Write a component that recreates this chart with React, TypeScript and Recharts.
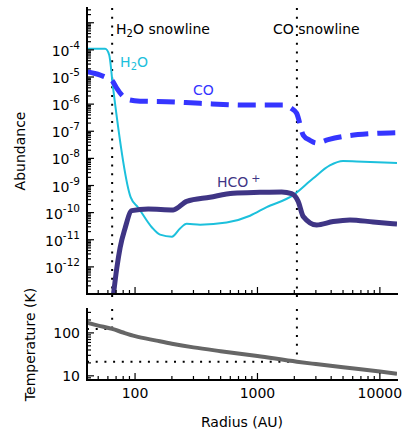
import { LineChart, Line, XAxis, YAxis, ReferenceLine, ReferenceDot } from "recharts";

// axis ranges
const R_MIN = 40.5;
const R_MAX = 13800;
const A_MIN = 1e-13;
const A_MAX = 3.5e-3;
const T_MIN = 8;
const T_MAX = 360;

// snowlines: radius (AU) and temperature (K)
const H2O_SNOW_R = 65;
const H2O_SNOW_T = 124;
const CO_SNOW_R = 2100;
const CO_SNOW_T = 21.3;

// tick values
const R_MAJOR = [100, 1000, 10000];
const R_LABELS = [100, 1000, 10000];
const A_EXP_MAJOR = [-13, -12, -11, -10, -9, -8, -7, -6, -5, -4, -3];
const A_EXP_LABELS = [-12, -11, -10, -9, -8, -7, -6, -5, -4];
const T_MAJOR = [10, 100];
const T_LABELS = [10, 100];
const MINOR_MULT = [2, 3, 4, 5, 6, 7, 8, 9];

// abundances
const H2O_R = [40.5, 57, 61.5, 66, 92, 106, 137, 160, 200, 233, 264, 340, 560, 870, 1190, 1950, 2840, 3900, 5000, 6450, 13800];
const H2O_A = [1.09e-4, 1.09e-4, 6.5e-5, 4.3e-6, 3.7e-10, 1.55e-10, 2.9e-11, 1.55e-11, 1.3e-11, 2.6e-11, 3.9e-11, 3.6e-11, 4.3e-11, 7.7e-11, 1.6e-10, 4.3e-10, 1.8e-9, 5.5e-9, 8e-9, 7.7e-9, 6.7e-9];

const CO_R = [40.5, 52, 57, 64.5, 71, 78.4, 88, 110, 181, 340, 868, 1615, 1900, 2090, 2370, 2690, 3040, 3780, 5010, 8280, 13800];
const CO_A = [1.57e-5, 1.18e-5, 1e-5, 7.7e-6, 3.8e-6, 2.1e-6, 1.47e-6, 1.29e-6, 1.23e-6, 1.07e-6, 9.2e-7, 9.2e-7, 6.9e-7, 4.6e-7, 7.1e-8, 4.6e-8, 3.7e-8, 4.9e-8, 6.4e-8, 8.1e-8, 8.9e-8];

const HCO_R = [65.5, 71, 75.5, 82.8, 94, 128, 205, 264, 409, 634, 1047, 1577, 1900, 2150, 2370, 3040, 4160, 5690, 8820, 13800];
const HCO_A = [5e-14, 9.3e-13, 5.1e-12, 2.6e-11, 1.18e-10, 1.37e-10, 1.26e-10, 2.6e-10, 3.7e-10, 5.2e-10, 5.6e-10, 5.8e-10, 5e-10, 2.6e-10, 7.1e-11, 3.5e-11, 4.7e-11, 5.4e-11, 4.5e-11, 3.8e-11];

// temperature profile
const T_R = [40.5, 50, 65, 80, 100, 150, 200, 300, 500, 1000, 2100, 3000, 5000, 10000, 13800];
const T_K = [172, 148, 124, 102, 84, 66, 56, 46, 37.5, 29, 21.3, 18.8, 15.8, 12.6, 11.2];

const C_H2O = "#1cc0dc";
const C_CO = "#3535ff";
const C_HCO = "#3f3585";
const C_T = "#666666";
const FONT = "DejaVu Sans";

const toPts = (xs: number[], ys: number[]) => xs.map((r, i) => ({ r, v: ys[i] }));
const h2o = toPts(H2O_R, H2O_A);
const co = toPts(CO_R, CO_A);
const hco = toPts(HCO_R, HCO_A);
const temp = toPts(T_R, T_K);

const withMinor = (majors: number[], lo: number, hi: number) => {
  const out: number[] = [];
  majors.forEach((m) => {
    out.push(m);
    MINOR_MULT.forEach((k) => out.push(m * k));
  });
  MINOR_MULT.forEach((k) => out.push((majors[0] / 10) * k));
  return out.filter((v) => v >= lo * 0.999 && v <= hi * 1.001).sort((a, b) => a - b);
};

const R_TICKS = withMinor(R_MAJOR, R_MIN, R_MAX);
const A_TICKS = withMinor(A_EXP_MAJOR.map((e) => Math.pow(10, e)), A_MIN, A_MAX);
const T_TICKS = withMinor(T_MAJOR, T_MIN, T_MAX);

const isMajor = (v: number) => Math.abs(Math.log10(v) - Math.round(Math.log10(v))) < 1e-6;

type Side = "left" | "right" | "top" | "bottom";

function makeTick(side: Side, label?: (v: number) => any) {
  return (p: any) => {
    const { x, y, payload } = p;
    const v = payload.value as number;
    const len = isMajor(v) ? 7 : 4;
    let x2 = x;
    let y2 = y;
    if (side === "left") x2 = x + len;
    if (side === "right") x2 = x - len;
    if (side === "top") y2 = y + len;
    if (side === "bottom") y2 = y - len;
    const lab = label && isMajor(v) ? label(v) : null;
    return (
      <g>
        <line x1={x} y1={y} x2={x2} y2={y2} stroke="#000" strokeWidth={1.2} />
        {lab}
      </g>
    );
  };
}

const abundLabel = (x: number, y: number) => (v: number) => {
  const e = Math.round(Math.log10(v));
  if (!A_EXP_LABELS.includes(e)) return null;
  return (
    <text x={x - 7} y={y + 6} textAnchor="end" fontSize={14} fontFamily={FONT} fill="#000">
      10<tspan dy={-7} fontSize={10.5}>{`-${-e}`}</tspan>
    </text>
  );
};

const leftAbundTick = (p: any) =>
  makeTick("left", abundLabel(p.x, p.y))(p);

const leftTempTick = (p: any) =>
  makeTick("left", (v: number) =>
    T_LABELS.some((t) => Math.abs(t - v) < 1e-6) ? (
      <text x={p.x - 7} y={p.y + 5} textAnchor="end" fontSize={14} fontFamily={FONT} fill="#000">
        {String(Math.round(v))}
      </text>
    ) : null
  )(p);

const bottomRTick = (p: any) =>
  makeTick("bottom", (v: number) =>
    R_LABELS.some((t) => Math.abs(t - v) < 1e-6) ? (
      <text x={p.x} y={p.y + 18} textAnchor="middle" fontSize={14} fontFamily={FONT} fill="#000">
        {String(Math.round(v))}
      </text>
    ) : null
  )(p);

const frame = { stroke: "#000", strokeWidth: 2, strokeLinecap: "square" as const };
const dotted = { stroke: "#000", strokeWidth: 2, strokeDasharray: "2 6.7" };

const note = (content: any) => (p: any) => (
  <text x={p.cx} y={p.cy} fontSize={14} fontFamily={FONT}>
    {content}
  </text>
);

const yTitle = (text: string, dx: number) => (props: any) => {
  const vb = props.viewBox;
  const cx = vb.x + dx;
  const cy = vb.y + vb.height / 2;
  return (
    <text x={cx} y={cy} transform={`rotate(-90 ${cx} ${cy})`} textAnchor="middle" fontSize={14} fontFamily={FONT} fill="#000">
      {text}
    </text>
  );
};

export default function App() {
  return (
    <div style={{ position: "absolute", left: 0, top: 0, width: 403, height: 432, background: "#fff", fontFamily: FONT }}>
      <div style={{ position: "absolute", left: 0, top: 0 }}>
        <LineChart width={403} height={306} margin={{ top: 8, right: 6, bottom: 0, left: 0 }}>
          <XAxis
            xAxisId="b"
            dataKey="r"
            type="number"
            scale="log"
            domain={[R_MIN, R_MAX]}
            allowDataOverflow
            ticks={R_TICKS}
            interval={0}
            tickSize={0}
            tickMargin={0}
            tickLine={false}
            axisLine={frame}
            tick={makeTick("bottom")}
            height={12}
          />
          <XAxis
            xAxisId="t"
            orientation="top"
            dataKey="r"
            type="number"
            scale="log"
            domain={[R_MIN, R_MAX]}
            allowDataOverflow
            ticks={R_TICKS}
            interval={0}
            tickSize={0}
            tickMargin={0}
            tickLine={false}
            axisLine={frame}
            tick={makeTick("top")}
            height={0}
          />
          <YAxis
            yAxisId="l"
            type="number"
            scale="log"
            domain={[A_MIN, A_MAX]}
            allowDataOverflow
            ticks={A_TICKS}
            interval={0}
            tickSize={0}
            tickMargin={0}
            tickLine={false}
            axisLine={frame}
            tick={leftAbundTick}
            width={87}
            label={{ content: yTitle("Abundance", 25) }}
          />
          <YAxis
            yAxisId="r"
            orientation="right"
            type="number"
            scale="log"
            domain={[A_MIN, A_MAX]}
            allowDataOverflow
            ticks={A_TICKS}
            interval={0}
            tickSize={0}
            tickMargin={0}
            tickLine={false}
            axisLine={frame}
            tick={makeTick("right")}
            width={0}
          />
          <ReferenceLine
            xAxisId="b"
            yAxisId="l"
            segment={[{ x: H2O_SNOW_R, y: A_MAX }, { x: H2O_SNOW_R, y: 6e-14 }]}
            ifOverflow="visible"
            {...dotted}
          />
          <ReferenceLine
            xAxisId="b"
            yAxisId="l"
            segment={[{ x: CO_SNOW_R, y: A_MAX }, { x: CO_SNOW_R, y: 6e-14 }]}
            ifOverflow="visible"
            {...dotted}
          />
          <Line xAxisId="b" yAxisId="l" data={h2o} dataKey="v" type="monotone" stroke={C_H2O} strokeWidth={2} dot={false} isAnimationActive={false} />
          <Line xAxisId="b" yAxisId="l" data={co} dataKey="v" type="monotone" stroke={C_CO} strokeWidth={5} strokeDasharray="18 9" dot={false} isAnimationActive={false} />
          <Line xAxisId="b" yAxisId="l" data={hco} dataKey="v" type="monotone" stroke={C_HCO} strokeWidth={5} dot={false} isAnimationActive={false} />
          <ReferenceDot
            xAxisId="b"
            yAxisId="l"
            x={70}
            y={3.9e-4}
            r={0}
            ifOverflow="visible"
            shape={note(<tspan fill="#000">H<tspan fontSize={10} dy={3}>2</tspan><tspan dy={-3}>O snowline</tspan></tspan>)}
          />
          <ReferenceDot
            xAxisId="b"
            yAxisId="l"
            x={1340}
            y={3.9e-4}
            r={0}
            ifOverflow="visible"
            shape={note(<tspan fill="#000">CO snowline</tspan>)}
          />
          <ReferenceDot
            xAxisId="b"
            yAxisId="l"
            x={75.5}
            y={2.35e-5}
            r={0}
            ifOverflow="visible"
            shape={note(<tspan fill={C_H2O}>H<tspan fontSize={10} dy={3}>2</tspan><tspan dy={-3}>O</tspan></tspan>)}
          />
          <ReferenceDot
            xAxisId="b"
            yAxisId="l"
            x={297}
            y={2.15e-6}
            r={0}
            ifOverflow="visible"
            shape={note(<tspan fill={C_CO}>CO</tspan>)}
          />
          <ReferenceDot
            xAxisId="b"
            yAxisId="l"
            x={467}
            y={9.1e-10}
            r={0}
            ifOverflow="visible"
            shape={note(<tspan fill={C_HCO}>HCO<tspan dx={3} dy={-5} fontSize={11}>+</tspan></tspan>)}
          />
        </LineChart>
      </div>
      <div style={{ position: "absolute", left: 0, top: 270 }}>
        <LineChart width={403} height={162} margin={{ top: 39, right: 6, bottom: 0, left: 0 }}>
          <XAxis
            xAxisId="b"
            dataKey="r"
            type="number"
            scale="log"
            domain={[R_MIN, R_MAX]}
            allowDataOverflow
            ticks={R_TICKS}
            interval={0}
            tickSize={0}
            tickMargin={0}
            tickLine={false}
            axisLine={frame}
            tick={bottomRTick}
            height={52}
            label={{
              content: (props: any) => {
                const vb = props.viewBox;
                return (
                  <text x={vb.x + vb.width / 2} y={vb.y + 47} textAnchor="middle" fontSize={14} fontFamily={FONT} fill="#000">
                    Radius (AU)
                  </text>
                );
              },
            }}
          />
          <XAxis
            xAxisId="t"
            orientation="top"
            dataKey="r"
            type="number"
            scale="log"
            domain={[R_MIN, R_MAX]}
            allowDataOverflow
            ticks={R_TICKS}
            interval={0}
            tickSize={0}
            tickMargin={0}
            tickLine={false}
            axisLine={frame}
            tick={makeTick("top")}
            height={0}
          />
          <YAxis
            yAxisId="l"
            type="number"
            scale="log"
            domain={[T_MIN, T_MAX]}
            allowDataOverflow
            ticks={T_TICKS}
            interval={0}
            tickSize={0}
            tickMargin={0}
            tickLine={false}
            axisLine={frame}
            tick={leftTempTick}
            width={87}
            label={{ content: yTitle("Temperature (K)", 35) }}
          />
          <YAxis
            yAxisId="r"
            orientation="right"
            type="number"
            scale="log"
            domain={[T_MIN, T_MAX]}
            allowDataOverflow
            ticks={T_TICKS}
            interval={0}
            tickSize={0}
            tickMargin={0}
            tickLine={false}
            axisLine={frame}
            tick={makeTick("right")}
            width={0}
          />
          <ReferenceLine xAxisId="b" yAxisId="l" segment={[{ x: H2O_SNOW_R, y: T_MAX }, { x: H2O_SNOW_R, y: H2O_SNOW_T }]} ifOverflow="visible" {...dotted} />
          <ReferenceLine xAxisId="b" yAxisId="l" segment={[{ x: R_MIN, y: H2O_SNOW_T }, { x: H2O_SNOW_R, y: H2O_SNOW_T }]} ifOverflow="visible" {...dotted} />
          <ReferenceLine xAxisId="b" yAxisId="l" segment={[{ x: CO_SNOW_R, y: T_MAX }, { x: CO_SNOW_R, y: CO_SNOW_T }]} ifOverflow="visible" {...dotted} />
          <ReferenceLine xAxisId="b" yAxisId="l" segment={[{ x: R_MIN, y: CO_SNOW_T }, { x: CO_SNOW_R, y: CO_SNOW_T }]} ifOverflow="visible" {...dotted} />
          <Line xAxisId="b" yAxisId="l" data={temp} dataKey="v" type="monotone" stroke={C_T} strokeWidth={4} dot={false} isAnimationActive={false} />
        </LineChart>
      </div>
    </div>
  );
}
